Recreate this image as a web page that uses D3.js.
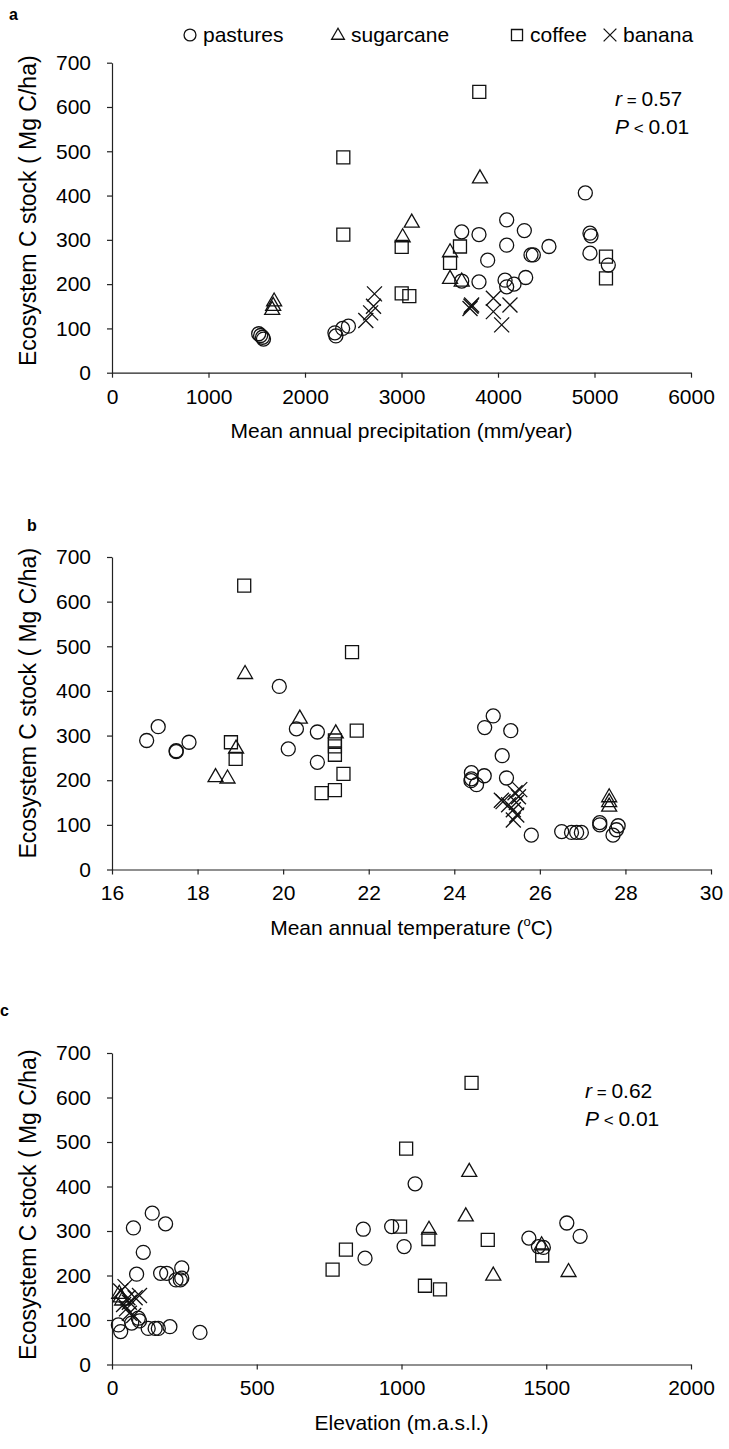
<!DOCTYPE html>
<html>
<head>
<meta charset="utf-8">
<script src="https://cdn.jsdelivr.net/npm/d3@7"></script>
<style>
  body { margin: 0; background: #fff; }
  svg text { font-family: "Liberation Sans", Arial, sans-serif; fill: #000; }
</style>
</head>
<body>
<svg id="chart" width="729" height="1449"></svg>
<script>
// ---- data: [x, carbon stock] ----
// panel a: precipitation (mm/year)
const precipPastures = [[1520,88],[1540,84],[1560,80],[1570,76],[2320,83],[2310,90],[2390,100],[2450,105],
  [3624,318],[3803,312],[4090,345],[4273,321],[4090,288],[3893,254],[4342,266],[4366,266],[4528,285],
  [4905,406],[4953,315],[4964,309],[4953,270],[5143,243],[3803,205],[3624,207],[4073,209],[4090,194],[4166,200],[4287,215]];
const precipSugarcane = [[1680,162],[1670,152],[1660,143],[3106,340],[3012,307],[3503,273],[3503,213],[3624,207],[3813,440]];
const precipCoffee = [[2397,486],[2397,312],[3002,284],[3002,179],[3081,173],[3806,634],[3606,285],[3503,248],[5119,262],[5119,213]];
const precipBanana = [[2630,118],[2680,135],[2710,150],[2720,178],[3727,153],[3710,145],[3720,150],[3952,168],[3952,138],[4124,153],[4038,108]];

// panel b: temperature (degC)
const tempPastures = [[17.08,320],[16.81,289],[17.5,264],[17.5,266],[17.8,285],[20.31,315],[20.8,308],[20.12,270],[20.8,240],[19.91,410],
  [24.91,344],[24.71,318],[25.32,311],[25.12,255],[24.4,217],[24.7,210],[24.39,199],[24.52,190],[25.22,205],[24.4,203],
  [25.8,77],[26.51,85],[26.74,83],[26.86,83],[26.97,83],[27.4,105],[27.4,100],[27.83,98],[27.79,89],[27.71,77]];
const tempSugarcane = [[19.11,439],[20.39,339],[18.9,272],[18.42,208],[18.7,205],[21.23,306],[27.62,163],[27.62,152],[27.62,142]];
const tempCoffee = [[19.09,636],[21.61,487],[18.78,285],[18.89,248],[21.72,311],[21.21,289],[21.21,276],[21.21,257],[21.41,214],[21.21,178],[20.9,171]];
const tempBanana = [[25.14,152],[25.42,172],[25.53,179],[25.38,134],[25.38,111],[25.46,122],[25.5,163],[25.27,145],[25.1,155],[25.45,150]];

// panel c: elevation (m.a.s.l.)
const elevPastures = [[139,340],[74,307],[185,316],[108,252],[85,203],[168,205],[189,205],[241,217],[221,190],[241,194],[236,190],
  [22,89],[30,74],[68,93],[91,104],[95,98],[125,81],[149,81],[160,81],[200,85],[304,72],
  [868,304],[966,310],[1009,265],[874,239],[1047,406],[1440,284],[1473,265],[1490,263],[1571,318],[1617,288]];
const elevSugarcane = [[25,160],[30,152],[35,145],[1234,434],[1222,334],[1095,304],[1484,269],[1317,201],[1577,209]];
const elevCoffee = [[1016,485],[995,310],[808,258],[762,213],[1242,633],[1093,282],[1298,280],[1486,245],[1081,177],[1133,169]];
const elevBanana = [[30,165],[45,175],[55,150],[60,140],[40,135],[50,125],[60,115],[75,110],[95,155],[80,150]];

const yTicks = [0, 100, 200, 300, 400, 500, 600, 700];
const precipTicks = [0, 1000, 2000, 3000, 4000, 5000, 6000];
const tempTicks = [16, 18, 20, 22, 24, 26, 28, 30];
const elevTicks = [0, 500, 1000, 1500, 2000];
const legendLabels = ["pastures", "sugarcane", "coffee", "banana"];

const svg = d3.select("#chart");
const font = 21;
const ink = "#111";

// one open marker, shape picked by name; k scales it
function drawMarker(g, shape, x, y, k = 1) {
  if (shape === "circle") {
    g.append("circle").attr("cx", x).attr("cy", y).attr("r", 7 * k)
      .attr("fill", "none").attr("stroke", ink).attr("stroke-width", 1.3);
    return;
  }
  let d;
  if (shape === "triangle") d = `M${x},${y - 8 * k}L${x + 7.5 * k},${y + 5 * k}L${x - 7.5 * k},${y + 5 * k}Z`;
  else if (shape === "square") d = `M${x - 6.5 * k},${y - 6.5 * k}h${13 * k}v${13 * k}h${-13 * k}Z`;
  else d = `M${x - 7.5 * k},${y - 7.5 * k}L${x + 7.5 * k},${y + 7.5 * k}M${x + 7.5 * k},${y - 7.5 * k}L${x - 7.5 * k},${y + 7.5 * k}`;
  g.append("path").attr("d", d).attr("fill", "none").attr("stroke", ink).attr("stroke-width", 1.3);
}

function drawPanel(cfg) {
  const x = d3.scaleLinear().domain(cfg.xDomain).range([cfg.left, cfg.right]);
  const y = d3.scaleLinear().domain([0, 700]).range([cfg.bottom, cfg.top]);
  const g = svg.append("g");

  const yAxis = g.append("g")
    .attr("transform", `translate(${cfg.left},0)`)
    .call(d3.axisLeft(y).tickValues(yTicks).tickFormat(d3.format("d"))
      .tickSize(5).tickPadding(16).tickSizeOuter(0));
  const xAxis = g.append("g")
    .attr("transform", `translate(0,${cfg.bottom})`)
    .call(d3.axisBottom(x).tickValues(cfg.xTicks).tickFormat(d3.format("d"))
      .tickSize(5).tickPadding(11).tickSizeOuter(0));
  [yAxis, xAxis].forEach(a => {
    a.attr("font-size", font).attr("font-family", null);
    a.selectAll("path, line").attr("stroke", "#222").attr("stroke-width", 1.2);
  });

  // y title
  g.append("text")
    .attr("transform", `translate(${cfg.left - 76},${(cfg.top + cfg.bottom) / 2 + cfg.yTitleShift}) rotate(-90)`)
    .attr("text-anchor", "middle").attr("font-size", 23)
    .text("Ecosystem C stock ( Mg C/ha)");

  // x title
  const xt = g.append("text")
    .attr("x", (cfg.left + cfg.right) / 2).attr("y", cfg.bottom + 65)
    .attr("text-anchor", "middle").attr("font-size", 21);
  if (cfg.degree) {
    xt.append("tspan").text("Mean annual temperature (");
    xt.append("tspan").attr("font-size", 13).attr("baseline-shift", "70%").text("o");
    xt.append("tspan").text("C)");
  } else {
    xt.text(cfg.xTitle);
  }

  // panel letter
  g.append("text").attr("x", cfg.letterX).attr("y", cfg.letterY)
    .attr("font-size", 16).attr("font-weight", "bold").text(cfg.letter);

  // correlation note
  if (cfg.stat) {
    const t1 = g.append("text").attr("x", cfg.statX).attr("y", cfg.statY).attr("font-size", 21);
    t1.append("tspan").attr("font-style", "italic").text("r");
    t1.append("tspan").attr("font-size", 17).text(" = ");
    t1.append("tspan").text(cfg.stat[0]);
    const t2 = g.append("text").attr("x", cfg.statX).attr("y", cfg.statY + 28).attr("font-size", 21);
    t2.append("tspan").attr("font-style", "italic").text("P");
    t2.append("tspan").attr("font-size", 17).text(" < ");
    t2.append("tspan").text(cfg.stat[1]);
  }

  const marks = g.append("g");
  const series = [["circle", cfg.series[0]], ["triangle", cfg.series[1]], ["square", cfg.series[2]], ["cross", cfg.series[3]]];
  series.forEach(([shape, pts]) => {
    pts.forEach(d => drawMarker(marks, shape, x(d[0]), y(d[1])));
  });
}

drawPanel({
  letter: "a", letterX: 9, letterY: 20,
  left: 112, right: 691, top: 62.7, bottom: 372.7, yTitleShift: -7,
  xDomain: [0, 6000], xTicks: precipTicks,
  xTitle: "Mean annual precipitation (mm/year)",
  stat: ["0.57", "0.01"], statX: 615, statY: 106,
  series: [precipPastures, precipSugarcane, precipCoffee, precipBanana]
});

drawPanel({
  letter: "b", letterX: 27, letterY: 531,
  left: 112, right: 711, top: 557, bottom: 869.5, yTitleShift: -10,
  xDomain: [16, 30], xTicks: tempTicks, degree: true,
  series: [tempPastures, tempSugarcane, tempCoffee, tempBanana]
});

drawPanel({
  letter: "c", letterX: 0, letterY: 1016,
  left: 112, right: 691, top: 1053, bottom: 1364.5, yTitleShift: -4,
  xDomain: [0, 2000], xTicks: elevTicks,
  xTitle: "Elevation (m.a.s.l.)",
  stat: ["0.62", "0.01"], statX: 585, statY: 1098,
  series: [elevPastures, elevSugarcane, elevCoffee, elevBanana]
});

// legend across the top
const legendX = [190, 338, 517, 610];
const legendShapes = ["circle", "triangle", "square", "cross"];
const lg = svg.append("g");
legendLabels.forEach((lab, i) => {
  drawMarker(lg, legendShapes[i], legendX[i], 35, 0.85);
  lg.append("text").attr("x", legendX[i] + 13).attr("y", 42).attr("font-size", 21).text(lab);
});
</script>
</body>
</html>
